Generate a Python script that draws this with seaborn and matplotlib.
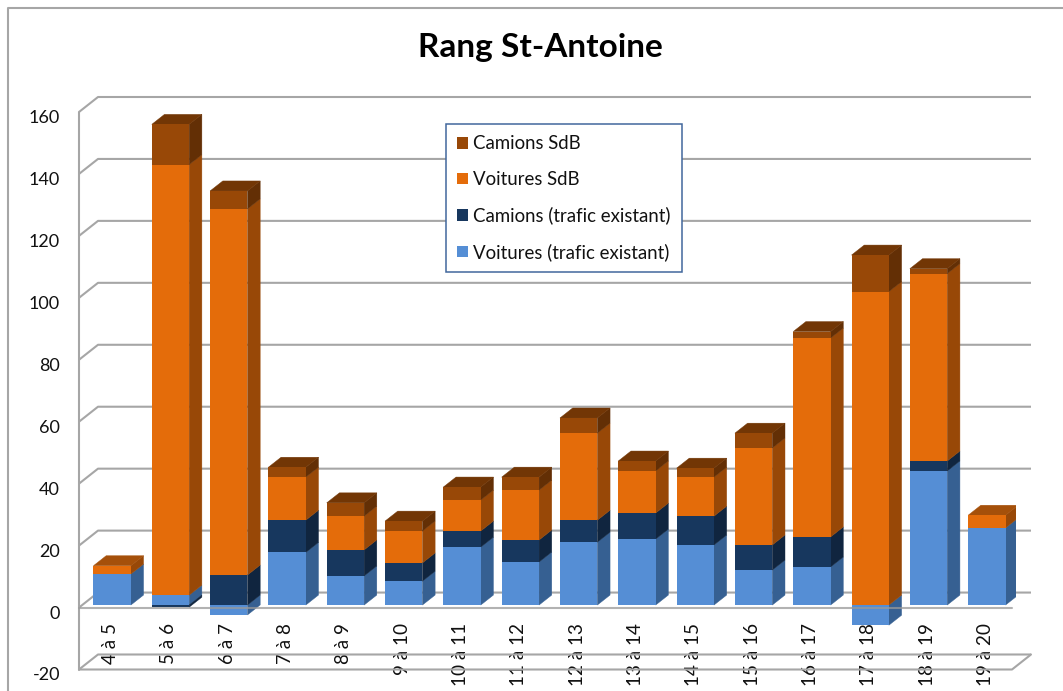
import numpy as np
import matplotlib
matplotlib.use("Agg")
import matplotlib.pyplot as plt
from matplotlib.patches import Patch, Polygon
from matplotlib.lines import Line2D
from matplotlib.transforms import ScaledTranslation
import seaborn as sns

categories = ["4 à 5", "5 à 6", "6 à 7", "7 à 8", "8 à 9", "9 à 10", "10 à 11", "11 à 12",
              "12 à 13", "13 à 14", "14 à 15", "15 à 16", "16 à 17", "17 à 18", "18 à 19", "19 à 20"]
voitures_existant = [10.0, 3.2, -3.2, 17.0, 9.4, 7.7, 18.7, 13.9, 20.3, 21.3, 19.4, 11.3, 12.3, -6.5, 43.3, 24.9]
camions_existant = [0.0, -0.7, 9.7, 10.4, 8.4, 5.9, 5.2, 7.1, 7.1, 8.4, 9.3, 8.1, 9.7, 0.0, 3.2, 0.0]
voitures_sdb = [2.7, 139.0, 118.2, 13.9, 10.9, 10.3, 10.0, 16.1, 28.1, 13.6, 12.6, 31.3, 64.2, 101.2, 60.5, 4.1]
camions_sdb = [0.0, 13.0, 5.8, 3.2, 4.3, 3.2, 4.2, 4.2, 4.9, 3.2, 2.9, 4.8, 2.1, 11.8, 1.6, 0.0]
series_names = ["Voitures (trafic existant)", "Camions (trafic existant)", "Voitures SdB", "Camions SdB"]
series_values = [voitures_existant, camions_existant, voitures_sdb, camions_sdb]
front_colors = ["#558ED5", "#17375E", "#E46C0A", "#984807"]
side_colors = ["#366092", "#10253F", "#984807", "#632F05"]
top_colors = ["#6F9FDC", "#254E80", "#A5500A", "#723605"]
y_ticks = [-20, 0, 20, 40, 60, 80, 100, 120, 140, 160]

W, H = 1063, 691
sns.set_theme(style="white")
plt.rcParams["font.family"] = ["Lato", "DejaVu Sans"]
plt.rcParams["axes.unicode_minus"] = False
fig = plt.figure(figsize=(W / 100, H / 100), dpi=100, facecolor="white")
L, R, T, B = 83, 1016, 109.5, 667
ax = fig.add_axes([L / W, 1 - B / H, (R - L) / W, (B - T) / H])

n = len(categories)
px_x = (R - L) / n
px_y = (B - T) / 180
bar_w = 37.4 / px_x
dx, dy = 12.7 / px_x, 10 / px_y
GREY = "#A6A6A6"

pos = np.zeros(n)
neg = np.zeros(n)
tops = [None] * n
for vals, name, fc, sc, tc in zip(series_values, series_names, front_colors, side_colors, top_colors):
    vals = np.array(vals)
    bottoms = np.where(vals >= 0, pos, neg)
    before = len(ax.patches)
    sns.barplot(x=categories, y=vals, bottom=bottoms, color=fc, saturation=1, width=bar_w,
                errorbar=None, linewidth=0, ax=ax, zorder=3)
    for i, bar in enumerate(ax.patches[before:before + n]):
        x1 = bar.get_x() + bar.get_width()
        y0, y1 = bar.get_y(), bar.get_y() + bar.get_height()
        if vals[i] != 0:
            ax.add_patch(Polygon([(x1, y0), (x1 + dx, y0 + dy), (x1 + dx, y1 + dy), (x1, y1)],
                                 closed=True, fc=sc, ec=sc, lw=0.3, zorder=2.5))
        if vals[i] > 0:
            tops[i] = (bar.get_x(), x1, y1, tc)
    pos += np.where(vals > 0, vals, 0)
    neg += np.where(vals < 0, vals, 0)

for x0, x1, y1, tc in tops:
    ax.add_patch(Polygon([(x0, y1), (x1, y1), (x1 + dx, y1 + dy), (x0 + dx, y1 + dy)],
                         closed=True, fc=tc, ec=tc, lw=0.3, zorder=2.6))

ax.set_xlim(-0.5, n - 0.5)
ax.set_ylim(-20, 160)

# walls and gridlines: front plane and back wall are shifted from the bar plane
fx, fy = -4 / px_x, -2.5 / px_y
bx, by = 15 / px_x, 12.5 / px_y
xl, xr = -0.5, n - 0.5
lw = 1.5
for t in y_ticks:
    ax.plot([xl + fx, xl + bx, xr + bx], [t + fy, t + by, t + by], color=GREY, lw=lw,
            clip_on=False, zorder=1, solid_capstyle="butt")
ax.plot([xl + fx, xl + fx], [-20 + fy, 160 + fy], color=GREY, lw=lw, clip_on=False, zorder=1)
ax.plot([xl + fx, xr + fx, xr + bx], [-20 + fy, -20 + fy, -20 + by], color=GREY, lw=lw, clip_on=False, zorder=1)
ax.plot([xl + fx, xr + fx], [fy, fy], color="#999999", lw=lw, alpha=0.75, clip_on=False, zorder=4)

sns.despine(ax=ax, left=True, bottom=True)
ax.set_xlabel("")
ax.set_ylabel("")
ax.tick_params(axis="y", length=0, labelsize=13, labelcolor="#111111", pad=(L - 60) * 0.72)
ax.tick_params(axis="x", length=0, labelsize=13.6, labelcolor="#111111", pad=-(B - 623) * 0.72)
ax.set_yticks(y_ticks)
ax.set_xticks(range(n))
ax.set_xticklabels(categories, rotation=90, ha="center", va="top")
for lab in ax.get_yticklabels():
    lab.set_transform(lab.get_transform() + ScaledTranslation(0, -7 / 100, fig.dpi_scale_trans))
for lab in ax.get_xticklabels():
    lab.set_transform(lab.get_transform() + ScaledTranslation(-1.5 / 100, 0, fig.dpi_scale_trans))
    lab.set_zorder(6)

handles = [Patch(fc=c, ec="none", label=s) for c, s in zip(front_colors[::-1], series_names[::-1])]
leg = fig.legend(handles=handles, loc="upper left", bbox_to_anchor=(445.7 / W, 1 - 124.3 / H),
                 fontsize=13.4, frameon=True, fancybox=False, framealpha=1, edgecolor="#41679C",
                 facecolor="white", handlelength=0.59, handleheight=0.59, handletextpad=0.3,
                 labelspacing=1.0, borderpad=0.6, borderaxespad=0, labelcolor="#111111")
leg.get_frame().set_linewidth(1.1)
leg.set_zorder(10)

fig.text(540 / W, 1 - 48 / H, "Rang St-Antoine", ha="center", va="center", fontsize=24,
         fontweight="bold", color="black")
fig.add_artist(Line2D([7.5 / W, 7.5 / W, 1], [0, 1 - 7.5 / H, 1 - 7.5 / H], color="#A6A6A6", lw=1.5))

fig.savefig("out.png", dpi=100)
